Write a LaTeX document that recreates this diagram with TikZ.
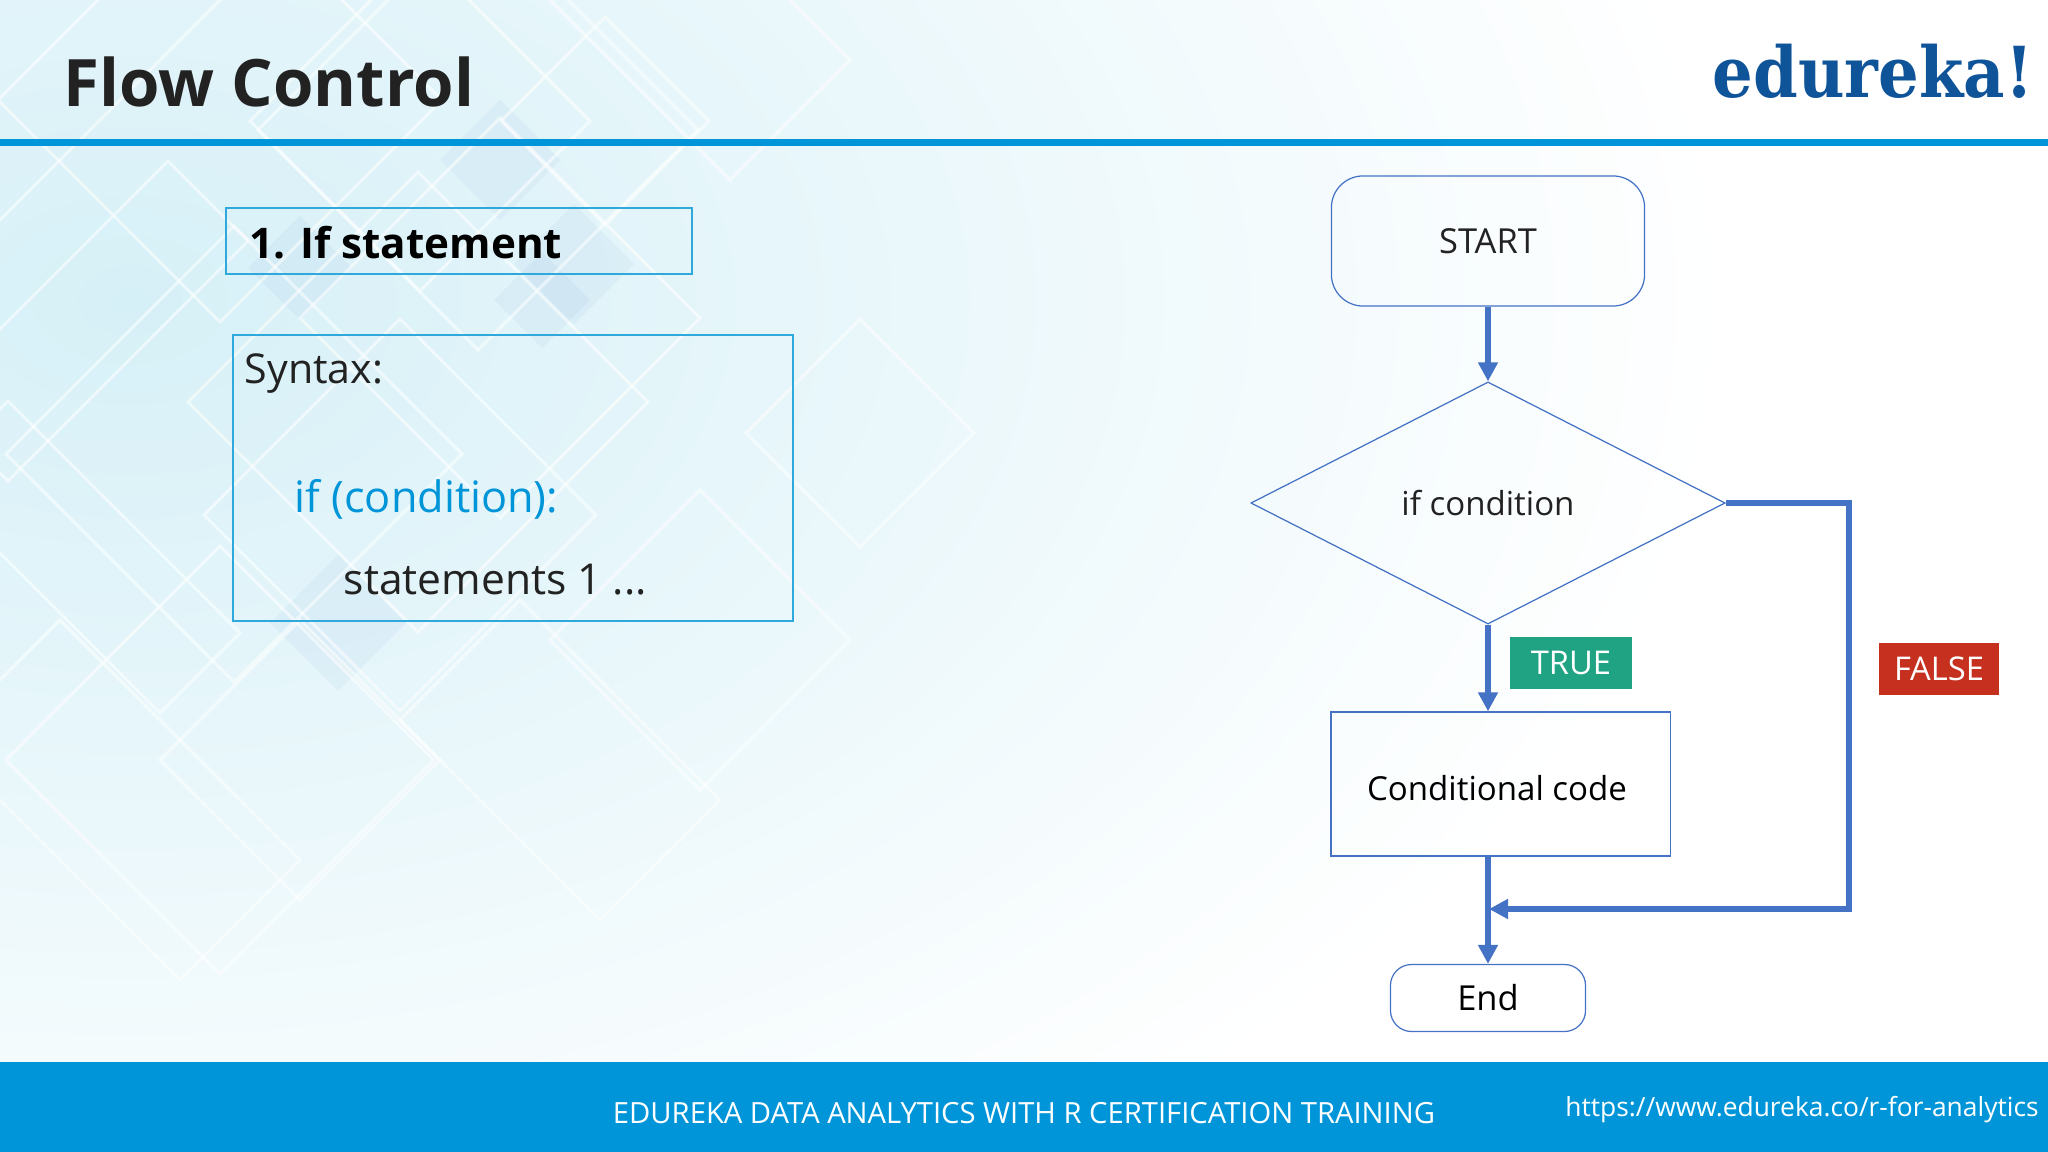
\documentclass[tikz,border=0pt]{standalone}
\usepackage{fontspec}
\setmainfont{Open Sans}
\newfontfamily\logofont[FakeStretch=0.91]{DejaVu Serif}
\usetikzlibrary{shapes.geometric,arrows.meta}
\definecolor{barblue}{HTML}{0095D9}
\definecolor{boxblue}{HTML}{2FA8DC}
\definecolor{flowblue}{HTML}{4472C4}
\definecolor{logoblue}{HTML}{0F5499}
\definecolor{truegreen}{HTML}{1FA383}
\definecolor{falsered}{HTML}{C5301F}
\definecolor{paleblue}{HTML}{D6F0F7}
\definecolor{inkdark}{HTML}{222222}
\tikzstyle{rib} = [draw=white,line width=0.9pt,opacity=0.55]
\tikzstyle{patch} = [fill=flowblue,opacity=0.05]
\tikzstyle{slidebox} = [draw=boxblue,line width=0.5pt]
\tikzstyle{flownode} = [draw=flowblue,line width=0.35pt,font=\fontsize{9.4}{12}\selectfont,text=inkdark,inner sep=0pt]
\tikzstyle{roundnode} = [flownode,rectangle,rounded corners=6pt]
\tikzstyle{tag} = [text=white,font=\fontsize{9.3}{12}\selectfont,inner sep=0pt]
\tikzstyle{flowedge} = [draw=flowblue,line width=1.7pt,-{Triangle[length=0.19cm,width=0.19cm]}]
\tikzstyle{syntaxtext} = [anchor=base west,inner sep=0pt,text=inkdark]
\begin{document}
\begin{tikzpicture}[x=0.01cm,y=-0.01cm]
      \useasboundingbox (0,0) rectangle (2048,1152);
      %background
      \begin{scope}
        \clip (0,0) rectangle (2048,1062);
        \shade[inner color=paleblue,outer color=white] (130,300) ellipse (1600 and 1050);
        \foreach \cx/\cy/\ra/\rb in {
          574/264/30/30, 300/268/26/26, 338/623/34/34, 542/300/24/24, 500/160/30/30}
        {
          \fill[patch] ({\cx+\ra+\rb},{\cy+\ra-\rb}) -- ({\cx+\ra-\rb},{\cy+\ra+\rb}) -- ({\cx-\ra-\rb},{\cy-\ra+\rb}) -- ({\cx-\ra+\rb},{\cy-\ra-\rb}) -- cycle;
        };
        \foreach \cx/\cy/\ra/\rb in {
          418/402/115/115, 234/454/114/114, 220/100/111/111, 478/130/110/110,
          500/318/100/100, 605/121/52/52, 420/121/85/85, 300/760/70/70,
          220/760/107/107, 400/515/98/98, 84/557/116/40, 88/321/40/120,
          700/640/75/75, 860/433/57/57, 60/40/60/140, 700/30/90/60,
          120/800/120/60, 560/760/100/60}
        {
          \draw[rib] ({\cx+\ra+\rb},{\cy+\ra-\rb}) -- ({\cx+\ra-\rb},{\cy+\ra+\rb}) -- ({\cx-\ra-\rb},{\cy-\ra+\rb}) -- ({\cx-\ra+\rb},{\cy-\ra-\rb}) -- cycle;
        };
      \end{scope}
      \fill[barblue] (0,139) rectangle (2048,146);
      \fill[barblue] (0,1062) rectangle (2048,1152);
      %texts
      \node[anchor=base west,inner sep=0pt,font=\fontsize{18.6}{22}\selectfont\bfseries,text=inkdark] (title) at (63,107) {Flow Control};
      \node[anchor=base east,inner sep=0pt,font=\fontsize{20}{24}\selectfont\logofont\bfseries,text=logoblue] (logo) at (2034,98) {edureka!};
      \node[slidebox,minimum width=4.66cm,minimum height=0.66cm,inner sep=0pt] (heading) at (459,241) {};
      \node[anchor=base west,inner sep=0pt,font=\fontsize{12}{16}\selectfont\bfseries,text=black] (headingtext) at (249,259) {1. If statement};
      \node[slidebox,minimum width=5.6cm,minimum height=2.86cm,inner sep=0pt] (syntax) at (513,478) {};
      \foreach \nodename/\x/\y/\tint/\fsize/\value in {
        syntaxlabel/244/384/inkdark/11.7/Syntax:,
        syntaxif/294/512/barblue/12.3/if (condition):,
        syntaxbody/343/594/inkdark/12.1/statements 1 .{}.{}.}
      {
        \node[syntaxtext,text=\tint,font=\fontsize{\fsize}{16}\selectfont] (\nodename) at (\x,\y) {\value};
      };
      \node[anchor=center,text=white,inner sep=0pt,font=\fontsize{8.3}{12}\selectfont] (footer) at (1024,1113) {EDUREKA DATA ANALYTICS WITH R CERTIFICATION TRAINING};
      \node[anchor=center,text=white,inner sep=0pt,font=\fontsize{7.5}{12}\selectfont] (url) at (1802,1110) {https://www.edureka.co/r-for-analytics};
      %nodes
      \node[roundnode,minimum width=3.13cm,minimum height=1.3cm,rounded corners=9pt,font=\fontsize{9.8}{12}\selectfont] (start) at (1488,241) {START};
      \node[flownode,diamond,aspect=2,minimum width=4.74cm,minimum height=2.42cm] (decision) at (1488,503) {if condition};
      \node[flownode,rectangle,minimum width=3.39cm,minimum height=1.44cm,text=black] (code) at (1500.5,784) {};
      \node[flownode,draw=none,text=black] (codelabel) at (1497,788) {Conditional code};
      \node[roundnode,minimum width=1.95cm,minimum height=0.67cm,text=black,font=\fontsize{9.8}{12}\selectfont] (end) at (1488,998) {End};
      \node[tag,fill=truegreen,minimum width=1.21cm,minimum height=0.52cm] (truetag) at (1571,663) {TRUE};
      \node[tag,fill=falsered,minimum width=1.2cm,minimum height=0.52cm] (falsetag) at (1939,669) {FALSE};
      \coordinate (codetop) at (decision.south |- code.north);
      \coordinate (codebottom) at (end.north |- code.south);
      \coordinate (falsecorner) at (1849,909);
      \coordinate (merge) at (1489,909);
      %edges
      \path
      \foreach \startnode/\endnode in {
        start.south/decision.north, decision.south/codetop, codebottom/end.north}
      {
        (\startnode) edge[flowedge] (\endnode)
      };
      \draw[flowedge] (decision.east) -- (decision.east -| falsecorner) -- (falsecorner) -- (merge);
\end{tikzpicture}
\end{document}
